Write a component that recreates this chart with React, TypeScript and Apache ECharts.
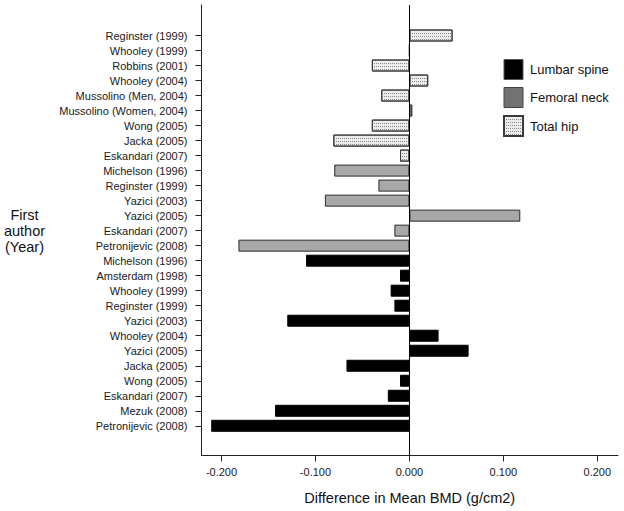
import React, { useEffect, useRef } from "react";
import * as echarts from "echarts";

const totalHipStudies = [
  "Reginster (1999)", "Whooley (1999)", "Robbins (2001)", "Whooley (2004)",
  "Mussolino (Men, 2004)", "Mussolino (Women, 2004)", "Wong (2005)", "Jacka (2005)", "Eskandari (2007)",
];
const totalHipValues = [0.046, 0, -0.040, 0.020, -0.030, 0.003, -0.040, -0.081, -0.010];

const femoralStudies = [
  "Michelson (1996)", "Reginster (1999)", "Yazici (2003)", "Yazici (2005)", "Eskandari (2007)", "Petronijevic (2008)",
];
const femoralValues = [-0.080, -0.033, -0.090, 0.118, -0.016, -0.182];

const lumbarStudies = [
  "Michelson (1996)", "Amsterdam (1998)", "Whooley (1999)", "Reginster (1999)", "Yazici (2003)",
  "Whooley (2004)", "Yazici (2005)", "Jacka (2005)", "Wong (2005)", "Eskandari (2007)",
  "Mezuk (2008)", "Petronijevic (2008)",
];
const lumbarValues = [-0.110, -0.010, -0.020, -0.016, -0.130, 0.031, 0.063, -0.067, -0.010, -0.023, -0.143, -0.211];

const xTicks = [-0.2, -0.1, 0, 0.1, 0.2];
const seriesNames = ["Lumbar spine", "Femoral neck", "Total hip"];

const FONT = "'Liberation Sans', Arial, sans-serif";

export default function App() {
  const ref = useRef<HTMLDivElement>(null);
  useEffect(() => {
    if (!ref.current) return;
    const chart = echarts.init(ref.current, undefined, { renderer: "svg" });

    const keys = [
      ...totalHipStudies.map((s, i) => `TH${i}|${s}`),
      ...femoralStudies.map((s, i) => `FN${i}|${s}`),
      ...lumbarStudies.map((s, i) => `LS${i}|${s}`),
    ];
    const nTH = totalHipStudies.length;
    const nFN = femoralStudies.length;
    const nLS = lumbarStudies.length;
    const pad = (vals: number[], before: number, after: number) => [
      ...new Array(before).fill(null),
      ...vals,
      ...new Array(after).fill(null),
    ];
    const thData = pad(totalHipValues, 0, nFN + nLS);
    const fnData = pad(femoralValues, nTH, nLS);
    const lsData = pad(lumbarValues, nTH + nFN, 0);

    const xMin = -0.2213;
    const xMax = 0.222;

    chart.setOption({
      animation: false,
      textStyle: { fontFamily: FONT },
      grid: [
        { left: 201.5, right: 6, top: 5, bottom: 55.5 },
        { left: 201.5, right: 6, top: 28, height: 405.3 },
      ],
      legend: {
        orient: "vertical",
        left: 503,
        top: 59,
        padding: 0,
        itemWidth: 19,
        itemHeight: 20,
        itemGap: 7,
        icon: "rect",
        textStyle: { fontSize: 13, color: "#111", fontFamily: FONT, padding: [0, 0, 0, 2] },
        data: [
          { name: seriesNames[0], itemStyle: { color: "#000", borderColor: "#555", borderWidth: 1 } },
          { name: seriesNames[1], itemStyle: { color: "#727272", borderColor: "#444", borderWidth: 1 } },
          { name: seriesNames[2] },
        ],
      },
      xAxis: [
        {
          gridIndex: 0,
          type: "value",
          min: xMin,
          max: xMax,
          axisLine: { show: true, onZero: false, lineStyle: { color: "#222", width: 1 } },
          axisTick: { show: true, length: 6, customValues: xTicks, lineStyle: { color: "#222" } },
          axisLabel: {
            customValues: xTicks,
            fontSize: 11,
            color: "#1a1a1a",
            margin: 11,
            fontFamily: FONT,
            formatter: (v: number) => v.toFixed(3),
          },
          splitLine: { show: false },
          name: "Difference in Mean BMD (g/cm2)",
          nameLocation: "middle",
          nameGap: 35,
          nameTextStyle: { fontSize: 14.5, color: "#111", fontFamily: FONT },
        },
        {
          gridIndex: 1,
          type: "value",
          min: xMin,
          max: xMax,
          show: false,
        },
      ],
      yAxis: [
        {
          gridIndex: 0,
          type: "value",
          min: 0,
          max: 1,
          axisLine: { show: true, onZero: false, lineStyle: { color: "#222", width: 1 } },
          axisTick: { show: false },
          axisLabel: { show: false },
          splitLine: { show: false },
        },
        {
          gridIndex: 1,
          type: "category",
          inverse: true,
          data: keys,
          axisLine: { show: false, onZero: false },
          axisTick: { show: true, alignWithLabel: true, length: 6, lineStyle: { color: "#222" } },
          axisLabel: {
            interval: 0,
            fontSize: 11,
            color: "#1a1a1a",
            margin: 14,
            fontFamily: FONT,
            formatter: (v: string) => v.split("|")[1],
          },
          name: "First\nauthor\n(Year)",
          nameLocation: "middle",
          nameRotate: 0,
          nameGap: 177,
          nameTextStyle: {
            fontSize: 14.5,
            lineHeight: 16,
            align: "center",
            verticalAlign: "middle",
            color: "#111",
            fontFamily: FONT,
            padding: [3, 0, 0, 0],
          },
        },
      ],
      series: [
        {
          name: "zero",
          type: "line",
          xAxisIndex: 0,
          yAxisIndex: 0,
          data: [],
          silent: true,
          markLine: {
            silent: true,
            symbol: "none",
            label: { show: false },
            lineStyle: { color: "#000", width: 1, type: "solid" },
            data: [{ xAxis: 0 }],
          },
        },
        {
          name: seriesNames[0],
          type: "bar",
          xAxisIndex: 1,
          yAxisIndex: 1,
          stack: "all",
          barWidth: 12,
          data: lsData,
          itemStyle: { color: "#000", borderColor: "#000", borderWidth: 1 },
        },
        {
          name: seriesNames[1],
          type: "bar",
          xAxisIndex: 1,
          yAxisIndex: 1,
          stack: "all",
          barWidth: 12,
          data: fnData,
          itemStyle: { color: "#a8a8a8", borderColor: "#2a2a2a", borderWidth: 1 },
        },
        {
          name: seriesNames[2],
          type: "bar",
          xAxisIndex: 1,
          yAxisIndex: 1,
          stack: "all",
          barWidth: 12,
          data: thData,
          itemStyle: {
            color: "#ececec",
            borderColor: "#3a3a3a",
            borderWidth: 1,
            decal: {
              symbol: "rect",
              symbolSize: 1,
              color: "#8a8a8a",
              dashArrayX: [1, 1],
              dashArrayY: [1, 2],
              rotation: 0,
            },
          },
        },
      ],
    });
    return () => chart.dispose();
  }, []);
  return <div ref={ref} style={{ width: 624, height: 511, position: "absolute", left: 0, top: 0, background: "#fff" }} />;
}
